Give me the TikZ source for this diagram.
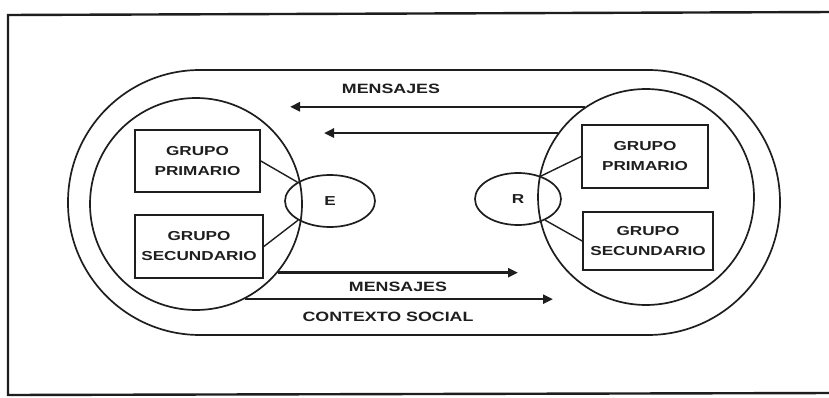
\documentclass[tikz,border=0pt]{standalone}
\usepackage{fontspec}
\newfontfamily\lblfont{Liberation Sans}[FakeStretch=1.32]
\usetikzlibrary{shapes.geometric,arrows.meta}
\definecolor{ink}{HTML}{1E1E1E}
\begin{document}
\begin{tikzpicture}[x=1pt,y=-1pt,
  line/.style={draw=ink,line width=1.7pt},
  txt/.style={text=ink,font=\lblfont\bfseries\fontsize{13.5}{15}\selectfont,inner sep=0pt},
  grupo/.style={line,rectangle,inner sep=0pt,align=center,text=ink,
    font=\lblfont\bfseries\fontsize{13}{20}\selectfont},
  ring/.style={line,circle,inner sep=0pt},
  actor/.style={line,ellipse,inner sep=0pt,text=ink,
    font=\lblfont\bfseries\fontsize{13}{14}\selectfont},
  flow/.style={draw=ink,line width=2.5pt,-{Triangle[length=10pt,width=9pt]}}]
  \useasboundingbox (0,0) rectangle (829,398);
  \fill[white] (0,0) rectangle (829,398);

  % frame around the figure
  \draw[draw=ink,line width=2.4pt] (835,12) -- (8,15) -- (8,395) -- (835,393);

  % social context
  \draw[line,rounded corners=132pt] (68,70) rectangle (780,335);

  % sender and receiver groups
  \node[ring,minimum size=212pt] (lc) at (196,204) {};
  \node[ring,minimum size=216pt] (rc) at (646,197) {};

  \node[grupo,minimum width=125pt,minimum height=62pt] (lp) at (197.5,161) {GRUPO\\PRIMARIO};
  \node[grupo,minimum width=128pt,minimum height=63pt] (ls) at (199,246.5) {GRUPO\\SECUNDARIO};
  \node[grupo,minimum width=126pt,minimum height=63pt] (rp) at (645,156.5) {GRUPO\\PRIMARIO};
  \node[grupo,minimum width=130pt,minimum height=58pt] (rs) at (648,241) {GRUPO\\SECUNDARIO};

  \node[actor,minimum width=90pt,minimum height=52pt] (E) at (330,201) {E};
  \node[actor,minimum width=86pt,minimum height=52pt] (R) at (518,199) {R};

  \draw[line,line width=1.4pt] (lp.east) -- (E.150);
  \draw[line,line width=1.4pt] (ls.east) -- (E.211);
  \draw[line,line width=1.4pt] (R.45) -- (rp.west);
  \draw[line,line width=1.4pt] (R.322) -- (rs.west);

  % messages
  \coordinate (t1) at (290,107);
  \coordinate (t2) at (324,133);
  \coordinate (t3) at (518,272);
  \coordinate (t4) at (553,299);
  \draw[flow] (rc.124) -- (rc.124 -| t1);
  \draw[flow] (rc.144) -- (rc.144 -| t2);
  \draw[flow] (lc.320) -- (lc.320 -| t3);
  \draw[flow] (lc.297) -- (lc.297 -| t4);

  \node[txt] (m1) at (391,89) {MENSAJES};
  \node[txt] (m2) at (398,287) {MENSAJES};
  \node[txt] (cs) at (388,317) {CONTEXTO SOCIAL};
\end{tikzpicture}
\end{document}
